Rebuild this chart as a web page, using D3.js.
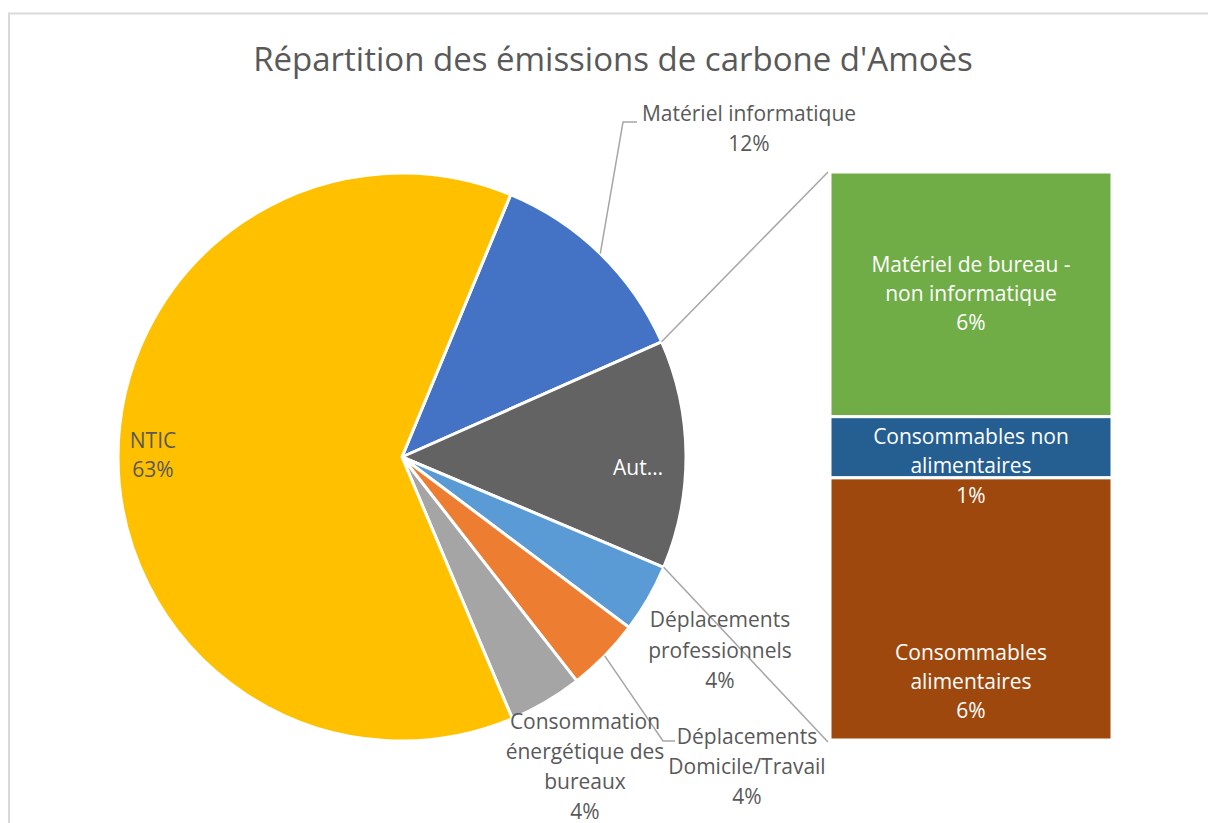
<!DOCTYPE html>
<html>
<head>
<meta charset="utf-8">
<script src="https://cdn.jsdelivr.net/npm/d3@7"></script>
<style>
  body { margin: 0; background: #fff; }
  svg text { font-family: "Open Sans", Lato, sans-serif; }
</style>
</head>
<body>
<svg id="chart" width="1208" height="823"></svg>
<script>
// pie part (Autres = sum of the bar part)
const pieNames = ["Matériel informatique", "Autres", "Déplacements professionnels",
                  "Déplacements Domicile/Travail", "Consommation énergétique des bureaux", "NTIC"]
const barNames = ["Matériel de bureau - non informatique", "Consommables non alimentaires", "Consommables alimentaires"]
const barValues = [5.6, 1.4, 6.0]
const pieValues = [12.1, d3.sum(barValues), 3.9, 4.2, 4.2, 62.6]

const pieColors = ["#4472C4", "#636363", "#5B9BD5", "#ED7D31", "#A5A5A5", "#FFC000"]
const barColors = ["#70AD47", "#255E91", "#9E480E"]

const W = 1208, H = 823
const cx = 402, cy = 457, R = 284
const barLeft = 830, barRight = 1112, barTop = 172, barBottom = 740
const grey = "#595959", lineCol = "#a6a6a6"
const labelSize = 21

const svg = d3.select("#chart")
const total = d3.sum(pieValues)
const pct = v => d3.format(".0%")(v / total)

// chart border
svg.append("rect")
  .attr("x", 9).attr("y", 13.5)
  .attr("width", W).attr("height", H)
  .attr("fill", "none").attr("stroke", "#d9d9d9").attr("stroke-width", 2)

svg.append("text")
  .attr("x", 613).attr("y", 59).attr("dy", "0.35em")
  .attr("text-anchor", "middle")
  .attr("font-size", 33).attr("fill", grey)
  .text("Répartition des émissions de carbone d'Amoès")

const start = 22.5 * Math.PI / 180
const pie = d3.pie().sort(null).startAngle(start).endAngle(start + 2 * Math.PI)
const arcs = pie(pieValues)
const arc = d3.arc().innerRadius(0).outerRadius(R)

const g = svg.append("g").attr("transform", `translate(${cx},${cy})`)
g.selectAll("path")
  .data(arcs)
  .enter().append("path")
  .attr("d", arc)
  .attr("fill", (d, i) => pieColors[i])
  .attr("stroke", "#fff").attr("stroke-width", 3).attr("stroke-linejoin", "round")

const onCircle = (a, r) => [cx + r * Math.sin(a), cy - r * Math.cos(a)]

// connectors pie -> bar
const other = arcs[1]
const p0 = onCircle(other.startAngle, R), p1 = onCircle(other.endAngle, R)
svg.append("line").attr("x1", p0[0]).attr("y1", p0[1]).attr("x2", barLeft - 2).attr("y2", barTop)
  .attr("stroke", lineCol).attr("stroke-width", 1.5)
svg.append("line").attr("x1", p1[0]).attr("y1", p1[1]).attr("x2", barLeft - 2).attr("y2", barBottom + 2)
  .attr("stroke", lineCol).attr("stroke-width", 1.5)

// bar of pie
const y = d3.scaleLinear().domain([0, d3.sum(barValues)]).range([barTop, barBottom])
const cum = d3.cumsum([0, ...barValues])
const barX = barLeft, barW = barRight - barLeft

function lines(sel, x, y0, arr, color, step) {
  arr.forEach((t, i) => {
    sel.append("text")
      .attr("x", x).attr("y", y0 + i * step).attr("dy", "0.35em")
      .attr("text-anchor", "middle").attr("font-size", labelSize).attr("fill", color)
      .text(t)
  })
}

const bars = svg.append("g")
const bx = barX + barW / 2
// green
bars.append("rect").attr("x", barX).attr("y", y(cum[0])).attr("width", barW).attr("height", y(cum[1]) - y(cum[0]))
  .attr("fill", barColors[0]).attr("stroke", "#fff").attr("stroke-width", 3)
lines(bars, bx, y(cum[0]) + 93, ["Matériel de bureau -", "non informatique", pct(barValues[0])], "#fff", 29)
// navy
bars.append("rect").attr("x", barX).attr("y", y(cum[1])).attr("width", barW).attr("height", y(cum[2]) - y(cum[1]))
  .attr("fill", barColors[1]).attr("stroke", "#fff").attr("stroke-width", 3)
lines(bars, bx, y(cum[1]) + 20, ["Consommables non", "alimentaires"], "#fff", 29)
// brown
bars.append("rect").attr("x", barX).attr("y", y(cum[2])).attr("width", barW).attr("height", y(cum[3]) - y(cum[2]))
  .attr("fill", barColors[2]).attr("stroke", "#fff").attr("stroke-width", 3)
lines(bars, bx, y(cum[1]) + 79, [pct(barValues[1])], "#fff", 29)
lines(bars, bx, y(cum[2]) + 175, ["Consommables", "alimentaires", pct(barValues[2])], "#fff", 29)

// pie labels
const midA = d => (d.startAngle + d.endAngle) / 2

// Matériel informatique (leader)
let a = onCircle(midA(arcs[0]), R)
svg.append("polyline")
  .attr("points", [a, [623, 122], [637, 122]].map(p => p.join(",")).join(" "))
  .attr("fill", "none").attr("stroke", lineCol).attr("stroke-width", 1.5)
lines(svg, 749, 114, ["Matériel informatique", pct(pieValues[0])], grey, 30)

// Autres (truncated)
lines(svg, 638, 468, ["Aut…"], "#fff", 30)

// Déplacements professionnels
lines(svg, 720, 620, ["Déplacements", "professionnels", pct(pieValues[2])], grey, 30.5)

// Déplacements Domicile/Travail (leader)
a = onCircle(midA(arcs[3]), R)
svg.append("polyline")
  .attr("points", [a, [663, 741], [675, 741]].map(p => p.join(",")).join(" "))
  .attr("fill", "none").attr("stroke", lineCol).attr("stroke-width", 1.5)
lines(svg, 747, 737, ["Déplacements", "Domicile/Travail", pct(pieValues[3])], grey, 30)

// Consommation énergétique des bureaux
lines(svg, 585, 722, ["Consommation", "énergétique des", "bureaux", pct(pieValues[4])], grey, 30)

// NTIC
lines(svg, 153, 441, ["NTIC", pct(pieValues[5])], grey, 29)
</script>
</body>
</html>
